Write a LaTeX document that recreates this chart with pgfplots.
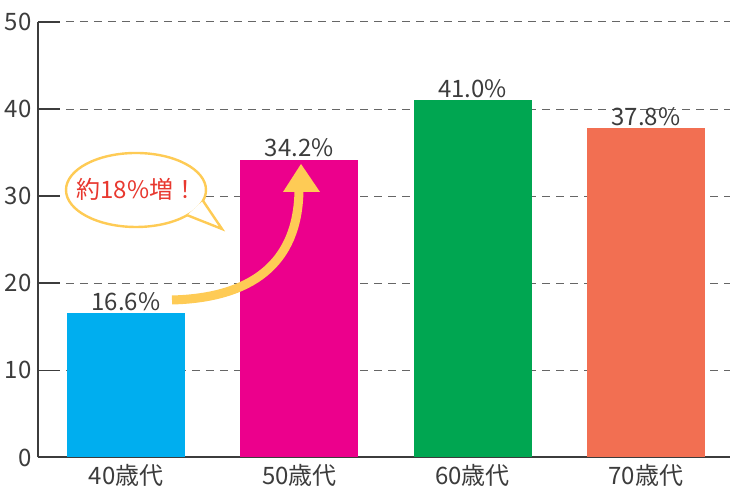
\documentclass[border=0pt]{standalone}
\usepackage{fontspec}
\setmainfont{Noto Sans CJK JP}
\usepackage{pgfplots}
\pgfplotsset{compat=1.18}
\definecolor{txt}{HTML}{3C3C3C}
\definecolor{c1}{HTML}{00AEEF}
\definecolor{c2}{HTML}{EC008C}
\definecolor{c3}{HTML}{00A651}
\definecolor{c4}{HTML}{F26F52}
\definecolor{yel}{HTML}{FECB55}
\definecolor{calred}{HTML}{E8382F}
\begin{document}
\begin{tikzpicture}
\useasboundingbox (0,0) rectangle (365pt,245pt);
\begin{axis}[at={(19pt,16.25pt)}, anchor=south west, scale only axis,
 width=346pt, height=217.75pt,
 xmin=-0.508, xmax=3.485, ymin=0, ymax=50,
 axis x line=bottom, axis y line=left,
 axis line style={-, draw=txt, line width=1pt},
 xtick={0,1,2,3}, xticklabels={40歳代,50歳代,60歳代,70歳代},
 ytick={0,10,...,50},
 tick align=inside, major tick length=11pt,
 ytick style={draw=txt, line width=0.8pt}, xtick style={draw=none},
 ymajorgrids, grid style={dash pattern=on 4pt off 3pt, draw=gray!80!black, line width=0.5pt},
 ticklabel style={font=\fontsize{12}{14}\selectfont, text=txt},
 yticklabel style={inner sep=0pt, xshift=-3pt},
 xticklabel style={inner sep=0pt, anchor=base, yshift=-2.5pt},
 /pgf/number format/assume math mode=true,
 ybar, bar width=59pt, bar shift=0pt,
 nodes near coords={\pgfmathprintnumber[fixed, fixed zerofill, precision=1]{\pgfplotspointmeta}\%},
 nodes near coords style={font=\fontsize{12}{14}\selectfont, text=txt, anchor=south, inner sep=0pt, yshift=1pt},
 clip=false,
]
\addplot[fill=c1, draw=none] coordinates {(0,16.6)};
\addplot[fill=c2, draw=none] coordinates {(1,34.2)};
\addplot[fill=c3, draw=none] coordinates {(2,41.0)};
\addplot[fill=c4, draw=none] coordinates {(3,37.8)};
\end{axis}
\begin{scope}[x=0.5pt, y=-0.5pt, yshift=245pt]
\draw[yel, line width=4.5pt] (172,300) .. controls (250,298) and (298,265) .. (299,190);
\fill[yel] (283,192) -- (301,164) -- (320,192) -- cycle;
\filldraw[fill=white, draw=yel, line width=1.2pt] (136,190) ellipse [x radius=70, y radius=37];
\fill[white] (187.2,215.2) -- (222,229) -- (203,200.8) -- cycle;
\draw[yel, line width=1.2pt] (187.2,215.2) -- (222,229) -- (203,200.8);
\node[text=calred, font=\fontsize{12}{14}\selectfont] at (137,189) {約18\%増！};
\end{scope}
\end{tikzpicture}
\end{document}
